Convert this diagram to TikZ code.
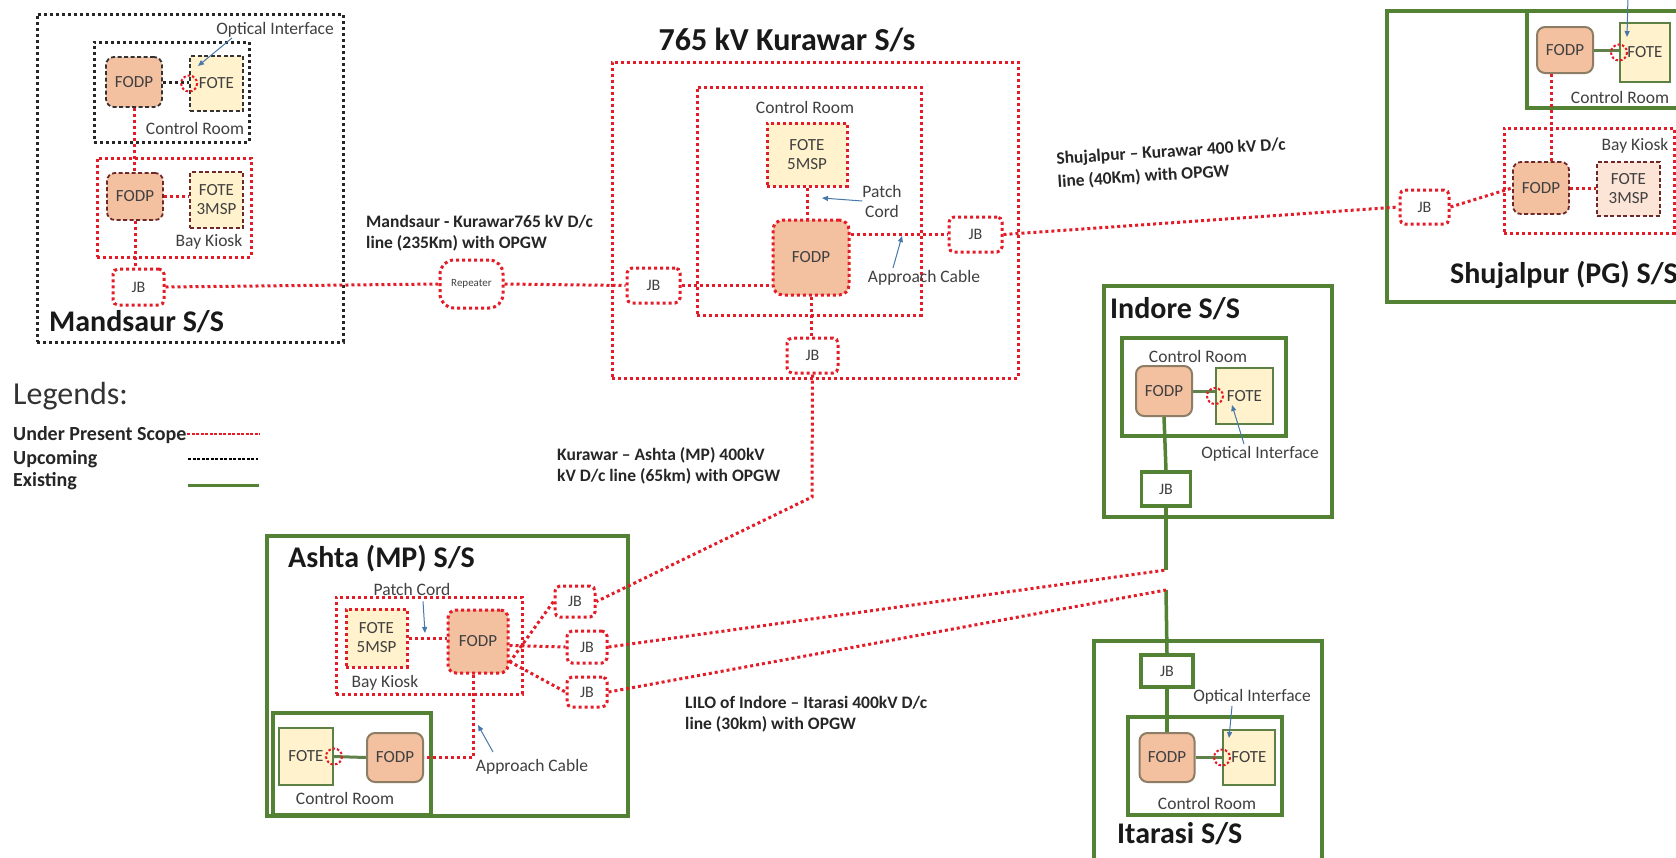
\documentclass[tikz,border=0pt]{standalone}
\usepackage{fontspec}
\setmainfont{Carlito}
\usetikzlibrary{arrows.meta}
\definecolor{myred}{RGB}{228,28,40}
\definecolor{mygreen}{RGB}{84,130,53}
\definecolor{fodpc}{RGB}{243,192,160}
\definecolor{fotec}{RGB}{255,242,204}
\definecolor{peach}{RGB}{252,228,214}
\definecolor{txtc}{RGB}{64,64,64}
\definecolor{arrc}{RGB}{70,120,170}
\definecolor{darkdash}{RGB}{110,40,40}
\definecolor{fodpedge}{RGB}{140,125,100}
\newcommand\myboxfont{\fontsize{17}{19}\selectfont}
\newcommand\myjbfont{\fontsize{16}{18}\selectfont}
\newcommand\mylblfont{\fontsize{17.5}{20}\selectfont}
\newcommand\mytitlefont{\fontsize{30}{34}\selectfont\bfseries}
\newcommand\mylinefont{\fontsize{17.5}{21}\selectfont\bfseries}
\begin{document}
\begin{tikzpicture}[x=1pt,y=-1pt,
  sz/.style 2 args={minimum width=#1pt, minimum height=#2pt, inner sep=0pt},
  rdot/.style={draw=myred, line width=3pt, dash pattern=on 3pt off 3pt},
  kdot/.style={draw=black!85, line width=3pt, dash pattern=on 3pt off 3pt},
  gline/.style={draw=mygreen, line width=3.5pt},
  kdash/.style={draw=black!80, line width=1.8pt, dash pattern=on 4pt off 2.5pt},
  rdash/.style={draw=darkdash, line width=1.8pt, dash pattern=on 4pt off 2.5pt},
  fodp/.style={fill=fodpc, rounded corners=8pt, font=\myboxfont, text=txtc, align=center},
  fote/.style={fill=fotec, font=\myboxfont, text=txtc, align=center},
  exfodp/.style={fodp, draw=fodpedge, line width=2pt},
  exfote/.style={fote, draw=mygreen!80!gray, line width=2pt},
  jb/.style={rdot, rounded corners=5pt, font=\myjbfont, text=txtc},
  gjb/.style={gline, font=\myjbfont, text=txtc},
  lbl/.style={font=\mylblfont, text=txtc, inner sep=0pt},
  ttl/.style={font=\mytitlefont, text=black!90, inner sep=0pt},
  linelbl/.style={font=\mylinefont, text=black!85, align=left, inner sep=0pt},
  leglbl/.style={font=\fontsize{20}{23}\selectfont\bfseries, text=black!85, anchor=west, inner sep=0pt},
  arr/.style={draw=arrc, line width=1pt, -{Triangle[length=6pt,width=5pt]}},
  ifmark/.style={draw=myred, line width=2pt, dash pattern=on 2.5pt off 2pt}
]
\useasboundingbox (0,0) rectangle (1676,857);
\clip (0,0) rectangle (1676,857);
\fill[white] (0,0) rectangle (1676,857);

% ================= Mandsaur =================
\node[kdot, sz={306}{328}] (mand) at (190,178) {};
\node[kdot, sz={155}{100}] (mcr) at (171.5,92) {};
\node[rdot, sz={154}{99}] (mbay) at (174,207.5) {};
\node[fodp, kdash, sz={56}{50}] (mfodp1) at (134,82) {FODP};
\node[fote, kdash, sz={53}{55}] (mfote1) at (216.5,83.5) {FOTE};
\node[fodp, rdash, sz={56}{47}] (mfodp2) at (135,196.5) {FODP};
\node[fote, rdash, sz={53}{56}] (mfote2) at (216.5,200) {FOTE\\3MSP};
\node[jb, sz={51}{36}] (mjb) at (138.5,287) {JB};
\node[lbl, anchor=east] (moi) at (334,30) {Optical Interface};
\node[lbl] (mcrl) at (195,128) {Control Room};
\node[lbl] (mbayl) at (209,242) {Bay Kiosk};
\node[ttl, anchor=west] (mttl) at (49,322) {Mandsaur S/S};
\draw[kdot] (mfodp1.east) -- (mfodp1.east -| mfote1.west);
\draw[rdot] (mfodp1.south) -- (mfodp1.south |- mfodp2.north);
\draw[rdot] (mfodp2.east) -- (mfodp2.east -| mfote2.west);
\draw[rdot] (mfodp2.south) -- (mfodp2.south |- mjb.north);
\draw[ifmark] (mfote1.west) circle (8);
\coordinate (moia) at (232,38);
\draw[arr] (moia) -- (198,66);

% ================= Repeater & Mandsaur line =================
\node[rdot, rounded corners=14pt, sz={63}{48}, font=\fontsize{11}{12}\selectfont, text=txtc] (rep) at (471.5,284) {Repeater};
\node[linelbl, anchor=west] (mkl) at (366,233) {Mandsaur - Kurawar765 kV D/c\\line (235Km) with OPGW};

% ================= Kurawar =================
\node[ttl, font=\fontsize{32}{36}\selectfont\bfseries] (kttl) at (787,40) {765 kV Kurawar S/s};
\node[rdot, sz={406}{316}] (kur) at (815,220) {};
\node[rdot, sz={224}{228}] (kcr) at (809,201) {};
\node[lbl] (kcrl) at (805,107) {Control Room};
\node[fote, rdot, sz={80}{63}] (kfote) at (807,154.5) {FOTE\\5MSP};
\node[fodp, rdot, rounded corners=10pt, sz={76}{75}] (kfodp) at (811,257.5) {FODP};
\node[jb, sz={53}{35}] (kjbr) at (975.5,234.5) {JB};
\node[jb, sz={53}{35}] (kjbl) at (653.5,285.5) {JB};
\node[jb, sz={51}{35}] (kjbb) at (812.5,355.5) {JB};
\node[lbl, align=center] (kpc) at (882,201) {Patch\\Cord};
\node[lbl] (kac) at (924,278) {Approach Cable};
\draw[rdot] (kfote.south) -- (kfote.south |- kfodp.north);
\draw[rdot] (kjbr.west -| kfodp.east) -- (kjbr.west);
\draw[rdot] (kjbl.east) -- (kjbl.east -| kfodp.west);
\draw[rdot] (kfodp.south) -- (kfodp.south |- kjbb.north);
\draw[arr] (kpc.west) -- (822,198);
\coordinate (kaca) at (893,268);
\draw[arr] (kaca) -- (902,236);

\draw[rdot] (mjb.east) -- (rep.west);
\draw[rdot] (rep.east) -- (kjbl.west);

% ================= Shujalpur =================
\node[gline, sz={320}{291}] (shu) at (1547,156.5) {};
\node[gline, sz={180}{97}] (scr) at (1617,59.5) {};
\node[rdot, sz={170}{105}] (sbay) at (1589,180.5) {};
\node[exfodp, sz={56}{46}] (sfodp1) at (1565,50) {FODP};
\node[exfote, sz={50}{59}] (sfote1) at (1645,52.5) {FOTE};
\node[lbl] (scrl) at (1620,97) {Control Room};
\node[lbl] (sbayl) at (1635,146) {Bay Kiosk};
\node[fodp, rdash, sz={56}{52}] (sfodp2) at (1541,188) {FODP};
\node[fote, rdash, fill=peach, sz={63}{54}] (sfote2) at (1628.5,189) {FOTE\\3MSP};
\node[jb, sz={49}{34}] (sjb) at (1424.5,207) {JB};
\node[ttl, anchor=east] (sttl) at (1678,275) {Shujalpur (PG) S/S};
\draw[gline, line width=3pt, draw=mygreen!70!gray] (sfodp1.east) -- (sfodp1.east -| sfote1.west);
\draw[rdot] ([xshift=-14pt]sfodp1.south) -- ([xshift=-14pt]sfodp1.south |- sfodp2.north);
\draw[rdot] (sfodp2.east) -- (sfodp2.east -| sfote2.west);
\draw[rdot] (sjb.east) -- (sfodp2.west);
\draw[ifmark] (sfote1.west) circle (8);
\coordinate (stop) at (1628,-5);
\draw[arr] (stop) -- (1627,37);
\draw[rdot] (kjbr.east) -- (sjb.west);
\node[linelbl, anchor=west, rotate=3.6, font=\fontsize{17.5}{23}\selectfont\bfseries] (skl) at (1057,171) {Shujalpur -- Kurawar 400 kV D/c\\line (40Km) with OPGW};

% ================= Indore =================
\node[gline, sz={228}{231}] (ind) at (1218,401.5) {};
\node[gline, sz={164}{98}] (icr) at (1204,387) {};
\node[lbl] (icrl) at (1198,356) {Control Room};
\node[exfodp, sz={56}{50}] (ifodp) at (1164,391) {FODP};
\node[exfote, sz={57}{56}] (ifote) at (1244.5,396) {FOTE};
\node[gjb, sz={49}{34}] (ijb) at (1166,489) {JB};
\node[lbl] (ioi) at (1260,454) {Optical Interface};
\node[ttl, anchor=west] (ittl) at (1110,309) {Indore S/S};
\coordinate (iend) at (1166,570);
\draw[gline] (ifodp.south) -- (ijb.north);
\draw[gline] (ijb.south) -- (iend);
\draw[gline, line width=3pt, draw=mygreen!70!gray] (ifodp.east) -- (ifodp.east -| ifote.west);
\draw[ifmark] (ifote.west) circle (8);
\coordinate (ioia) at (1244,444);
\draw[arr] (ioia) -- (1232,405);

% ================= Itarasi =================
\node[gline, sz={228}{230}] (ita) at (1208,756) {};
\node[gjb, sz={52}{32}] (tjb) at (1167,671) {JB};
\node[lbl] (toi) at (1252,697) {Optical Interface};
\node[gline, sz={154}{98}] (tcr) at (1205,766) {};
\node[exfodp, sz={55}{49}] (tfodp) at (1167,757.5) {FODP};
\node[exfote, sz={52}{55}] (tfote) at (1249,757.5) {FOTE};
\node[lbl] (tcrl) at (1207,803) {Control Room};
\node[ttl, anchor=west] (tttl) at (1117,834) {Itarasi S/S};
\coordinate (ttop) at (1166,590);
\draw[gline] (ttop) -- (tjb.north);
\draw[gline] (tjb.south) -- (tfodp.north);
\draw[gline, line width=3pt, draw=mygreen!70!gray] (tfodp.east) -- (tfodp.east -| tfote.west);
\draw[ifmark] (tfote.west) circle (8);
\coordinate (toia) at (1232,706);
\draw[arr] (toia) -- (1229,738);

% ================= Ashta =================
\node[gline, sz={361}{280}] (ash) at (447.5,676) {};
\node[ttl, anchor=west] (attl) at (288,559) {Ashta (MP) S/S};
\node[lbl] (apc) at (412,589) {Patch Cord};
\node[rdot, sz={186}{97}] (abay) at (429,645.5) {};
\node[fote, rdot, sz={61}{58}] (afote) at (376.5,638) {FOTE\\5MSP};
\node[fodp, rdot, sz={60}{63}] (afodp) at (478,641.5) {FODP};
\node[lbl] (abayl) at (385,683) {Bay Kiosk};
\node[jb, sz={40}{31}] (ajb1) at (575,601.5) {JB};
\node[jb, sz={40}{32}] (ajb2) at (587,647) {JB};
\node[jb, sz={40}{30}] (ajb3) at (587,692) {JB};
\node[gline, sz={158}{102}] (acr) at (352,764) {};
\node[exfote, sz={54}{57}] (afotec) at (306,756.5) {FOTE};
\node[exfodp, sz={56}{49}] (afodpc) at (395,757.5) {FODP};
\node[lbl] (acrl) at (345,798) {Control Room};
\node[lbl] (aac) at (532,767) {Approach Cable};
\draw[rdot] (afote.east) -- (afote.east -| afodp.west);
\draw[rdot] ([yshift=-21pt]afodp.east) -- (ajb1.west);
\draw[rdot] ([yshift=-4pt]afodp.east) -- (ajb2.west);
\draw[rdot] ([yshift=-20pt]afodp.east) -- (ajb3.west);
\draw[rdot] ([xshift=-5pt]afodp.south) |- (afodpc.east);
\draw[gline, line width=3pt, draw=mygreen!70!gray] (afotec.east) -- (afodpc.west);
\draw[ifmark] (afotec.east) circle (8);
\draw[arr] (apc.south) ++(11,6) -- (425,633);
\coordinate (aaca) at (493,752);
\draw[arr] (aaca) -- (478,725);

% ================= Long lines =================
\coordinate (kbend) at (812,497);
\draw[rdot] (kjbb.south) -- (kbend) -- (ajb1.east);
\draw[rdot] (ajb2.east) -- (iend);
\draw[rdot] (ajb3.east) -- (ttop);
\node[linelbl, anchor=west] (kal) at (557,466) {Kurawar -- Ashta (MP) 400kV\\kV D/c line (65km) with OPGW};
\node[linelbl, anchor=west] (lilo) at (685,714) {LILO of Indore -- Itarasi 400kV D/c\\line (30km) with OPGW};

% ================= Legend =================
\node[font=\fontsize{32}{35}\selectfont, text=black!80, anchor=west, inner sep=0pt] (leg) at (13,396) {Legends:};
\node[leglbl] (lg1) at (13,435) {Under Present Scope};
\node[leglbl] (lg2) at (13,459) {Upcoming};
\node[leglbl] (lg3) at (13,481) {Existing};
\coordinate (l1a) at (187,434); \coordinate (l1b) at (260,434);
\coordinate (l2a) at (188,459); \coordinate (l2b) at (258,459);
\coordinate (l3a) at (188,485); \coordinate (l3b) at (259,485);
\draw[draw=myred, line width=1.5pt, dash pattern=on 3pt off 1.5pt] (l1a) -- (l1b);
\draw[draw=black, line width=1.5pt, dash pattern=on 3pt off 1.5pt] (l2a) -- (l2b);
\draw[draw=mygreen, line width=3pt] (l3a) -- (l3b);
\end{tikzpicture}
\end{document}
